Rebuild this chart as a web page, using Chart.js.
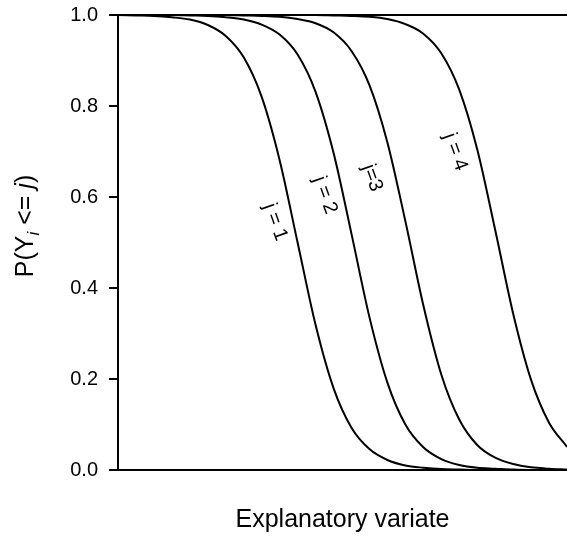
<!DOCTYPE html>
<html>
<head>
<meta charset="utf-8">
<script src="https://cdn.jsdelivr.net/npm/chart.js@4/dist/chart.umd.min.js"></script>
<style>
  html, body { margin: 0; padding: 0; background: #fff; }
  canvas { display: block; }
</style>
</head>
<body>
<canvas id="chart" width="567" height="536"></canvas>
<script>
// ================= DATA =================
const xValues = [0, 4, 8, 12, 16, 20, 24, 28, 32, 36, 40, 44, 48, 52, 56, 60, 64, 68, 72, 76, 80, 84, 88, 92, 96, 100];

const pJ1 = [1.000, 0.999, 0.998, 0.995, 0.990, 0.978, 0.954, 0.907, 0.820, 0.681, 0.500, 0.319, 0.180, 0.093, 0.046, 0.022, 0.010, 0.005, 0.002, 0.001, 0.000, 0.000, 0.000, 0.000, 0.000, 0.000];
const pJ2 = [1.000, 1.000, 1.000, 1.000, 0.999, 0.998, 0.995, 0.990, 0.979, 0.957, 0.913, 0.831, 0.697, 0.519, 0.336, 0.192, 0.100, 0.050, 0.024, 0.011, 0.005, 0.003, 0.001, 0.000, 0.000, 0.000];
const pJ3 = [1.000, 1.000, 1.000, 1.000, 1.000, 1.000, 1.000, 0.999, 0.998, 0.996, 0.991, 0.982, 0.962, 0.921, 0.846, 0.720, 0.547, 0.362, 0.210, 0.111, 0.055, 0.027, 0.013, 0.006, 0.003, 0.001];
const pJ4 = [1.000, 1.000, 1.000, 1.000, 1.000, 1.000, 1.000, 1.000, 1.000, 1.000, 1.000, 1.000, 0.999, 0.998, 0.996, 0.991, 0.980, 0.959, 0.916, 0.836, 0.705, 0.528, 0.344, 0.198, 0.104, 0.051];

const seriesNames = ["j = 1", "j = 2", "j=3", "j = 4"];
const yTicks = [0, 0.2, 0.4, 0.6, 0.8, 1.0];

// label anchors, in data units
const labelX = [35.0, 46.1, 56.6, 75.1];
const labelY = [0.545, 0.604, 0.642, 0.699];

const FONT = "'Liberation Sans', Arial, sans-serif";

// ================= PLUGINS =================
const curveLabels = {
  id: "curveLabels",
  afterDatasetsDraw(chart) {
    const ctx = chart.ctx;
    const xs = chart.scales.x;
    const ys = chart.scales.y;
    ctx.save();
    ctx.fillStyle = "#000";
    ctx.font = "20px " + FONT;
    ctx.textAlign = "center";
    ctx.textBaseline = "middle";
    seriesNames.forEach((name, i) => {
      const px = xs.getPixelForValue(labelX[i]);
      const py = ys.getPixelForValue(labelY[i]);
      ctx.save();
      ctx.translate(px, py);
      ctx.rotate(70 * Math.PI / 180);
      ctx.fillText(name, 0, 0);
      ctx.restore();
    });
    ctx.restore();
  }
};

const yTitle = {
  id: "yTitle",
  afterDraw(chart) {
    const ctx = chart.ctx;
    const parts = [
      { t: "P(Y", f: "25px " + FONT, dy: 0 },
      { t: "i", f: "italic 17px " + FONT, dy: 6 },
      { t: " <=", f: "25px " + FONT, dy: 0 },
      { t: " j", f: "italic 25px " + FONT, dy: 0 },
      { t: ")", f: "25px " + FONT, dy: 0 }
    ];
    ctx.save();
    ctx.fillStyle = "#000";
    ctx.textBaseline = "alphabetic";
    ctx.textAlign = "left";
    let total = 0;
    parts.forEach(p => { ctx.font = p.f; p.w = ctx.measureText(p.t).width; total += p.w; });
    ctx.translate(33, 226);
    ctx.rotate(-Math.PI / 2);
    let x = -total / 2;
    parts.forEach(p => {
      ctx.font = p.f;
      ctx.fillText(p.t, x, p.dy);
      x += p.w;
    });
    ctx.restore();
  }
};

// ================= CHART =================
const datasets = [pJ1, pJ2, pJ3, pJ4].map((vals, i) => ({
  label: seriesNames[i],
  data: xValues.map((x, k) => ({ x, y: vals[k] })),
  borderColor: "#000",
  borderWidth: 2,
  pointRadius: 0,
  fill: false,
  cubicInterpolationMode: "monotone"
}));

new Chart(document.getElementById("chart"), {
  type: "line",
  data: { datasets },
  options: {
    responsive: false,
    animation: false,
    layout: { padding: { left: 0, right: 0, top: 15, bottom: 0 } },
    plugins: {
      legend: { display: false },
      tooltip: { enabled: false }
    },
    scales: {
      x: {
        type: "linear",
        position: "bottom",
        min: 0,
        max: 100,
        ticks: { display: false },
        grid: { display: false },
        border: { display: true, color: "#000", width: 2 },
        title: {
          display: true,
          text: "Explanatory variate",
          color: "#000",
          font: { family: FONT, size: 25 },
          padding: { top: 0, bottom: 1 }
        },
        afterFit(scale) { scale.height = 66; }
      },
      xTop: {
        type: "linear",
        position: "top",
        min: 0,
        max: 100,
        ticks: { display: false },
        grid: { display: false },
        border: { display: true, color: "#000", width: 2 },
        afterFit(scale) { scale.height = 0; }
      },
      y: {
        min: 0,
        max: 1,
        afterBuildTicks(scale) { scale.ticks = yTicks.map(v => ({ value: v })); },
        ticks: {
          color: "#000",
          font: { family: FONT, size: 20 },
          padding: 11,
          callback: v => Number(v).toFixed(1)
        },
        grid: {
          display: true,
          drawOnChartArea: false,
          drawTicks: true,
          tickLength: 9,
          color: "#000",
          lineWidth: 2
        },
        border: { display: true, color: "#000", width: 2 },
        afterFit(scale) {
          scale.width = 118;
          scale.paddingTop = 0;
          scale.paddingBottom = 0;
        }
      }
    }
  },
  plugins: [curveLabels, yTitle]
});
</script>
</body>
</html>
